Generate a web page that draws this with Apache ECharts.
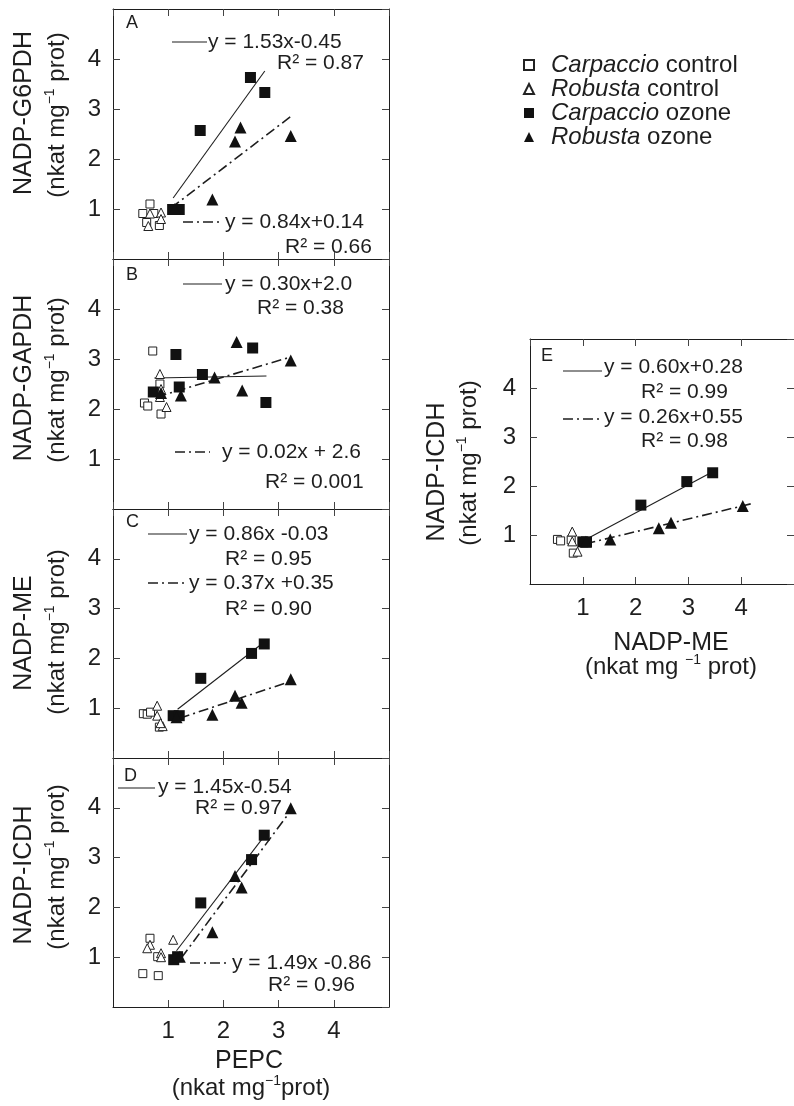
<!DOCTYPE html>
<html><head><meta charset="utf-8">
<script src="https://cdn.jsdelivr.net/npm/echarts@6/dist/echarts.min.js"></script>
<style>html,body{margin:0;padding:0;background:#fff}#c{width:794px;height:1106px}</style>
</head><body><div id="c"></div>
<script>
// ---------- data ----------
const tickLabels = ['1', '2', '3', '4'];
const seriesNames = ['Carpaccio control', 'Robusta control', 'Carpaccio ozone', 'Robusta ozone'];

// Panel A: NADP-G6PDH vs PEPC
const A_carpControl = [[0.67,1.10],[0.54,0.91],[0.61,0.73],[0.84,0.67],[0.74,0.91]];
const A_robControl  = [[0.67,0.91],[0.87,0.93],[0.64,0.66],[0.87,0.80]];
const A_carpOzone   = [[2.49,3.63],[2.75,3.33],[1.58,2.57],[1.08,0.99],[1.20,0.99]];
const A_robOzone    = [[2.31,2.63],[2.21,2.35],[3.22,2.46],[1.80,1.19],[1.12,1.00]];
const A_fitSolid    = [[1.09,1.22],[2.75,3.76]];
const A_fitDash     = [[1.05,1.02],[3.22,2.85]];

// Panel B: NADP-GAPDH vs PEPC
const B_carpControl = [[0.72,3.16],[0.57,2.12],[0.63,2.06],[0.87,1.90],[0.85,2.50]];
const B_robControl  = [[0.85,2.70],[0.85,2.24],[0.97,2.04],[0.87,2.40]];
const B_carpOzone   = [[1.14,3.09],[2.53,3.22],[1.62,2.69],[1.20,2.44],[0.73,2.34],[2.77,2.13]];
const B_robOzone    = [[2.24,3.34],[3.22,2.97],[1.84,2.63],[2.34,2.37],[1.23,2.27],[0.87,2.32]];
const B_fitSolid    = [[0.75,2.62],[2.78,2.66]];
const B_fitDash     = [[0.79,2.24],[3.22,3.04]];

// Panel C: NADP-ME vs PEPC
const C_carpControl = [[0.55,0.89],[0.62,0.88],[0.68,0.92],[0.84,0.62]];
const C_robControl  = [[0.80,1.05],[0.80,0.85],[0.90,0.64],[0.86,0.70]];
const C_carpOzone   = [[2.74,2.29],[2.51,2.10],[1.59,1.60],[1.09,0.85],[1.20,0.85]];
const C_robOzone    = [[3.22,1.58],[2.21,1.25],[2.33,1.11],[1.80,0.87],[1.15,0.82]];
const C_fitSolid    = [[1.17,0.98],[2.74,2.33]];
const C_fitDash     = [[1.21,0.80],[3.22,1.54]];

// Panel D: NADP-ICDH vs PEPC
const D_carpControl = [[0.67,1.38],[0.54,0.67],[0.82,0.63],[0.81,1.01]];
const D_robControl  = [[0.67,1.25],[1.09,1.35],[0.87,1.08],[0.87,1.00],[0.62,1.18]];
const D_carpOzone   = [[2.74,3.45],[2.51,2.96],[1.59,2.09],[1.10,0.95],[1.17,1.01]];
const D_robOzone    = [[3.22,3.99],[2.21,2.63],[2.33,2.40],[1.80,1.50],[1.21,1.01]];
const D_fitSolid    = [[1.15,1.13],[2.81,3.53]];
const D_fitDash     = [[1.24,0.99],[3.18,3.88]];

// Panel E: NADP-ICDH vs NADP-ME
const E_carpControl = [[0.52,0.91],[0.58,0.88],[0.82,0.63],[0.78,0.90]];
const E_robControl  = [[0.80,1.07],[0.80,0.87],[0.90,0.66]];
const E_carpOzone   = [[3.46,2.27],[2.97,2.09],[2.10,1.61],[1.00,0.86],[1.07,0.86]];
const E_robOzone    = [[4.03,1.59],[2.67,1.25],[2.44,1.14],[1.52,0.91],[1.06,0.86]];
const E_fitSolid    = [[1.02,0.89],[3.46,2.29]];
const E_fitDash     = [[1.05,0.82],[4.20,1.64]];

const panelLetters = ['A', 'B', 'C', 'D', 'E'];
const yTitles = ['NADP-G6PDH', 'NADP-GAPDH', 'NADP-ME', 'NADP-ICDH', 'NADP-ICDH'];
const eqSolid = ['y = 1.53x-0.45', 'y = 0.30x+2.0', 'y = 0.86x -0.03', 'y = 1.45x-0.54', 'y = 0.60x+0.28'];
const r2Solid = ['R² = 0.87', 'R² = 0.38', 'R² = 0.95', 'R² = 0.97', 'R² = 0.99'];
const eqDash  = ['y = 0.84x+0.14', 'y = 0.02x + 2.6', 'y = 0.37x +0.35', 'y = 1.49x -0.86', 'y = 0.26x+0.55'];
const r2Dash  = ['R² = 0.66', 'R² = 0.001', 'R² = 0.90', 'R² = 0.96', 'R² = 0.98'];

// ---------- layout ----------
const FONT = 'Liberation Sans';
const INK = '#1e1e1e';
const DASHDOT = [10, 4, 2, 4];
const panels = [
  {grid: {left: 113, top: 9,   width: 276, height: 250}, d: [A_carpControl, A_robControl, A_carpOzone, A_robOzone], fs: A_fitSolid, fd: A_fitDash, xLabels: false},
  {grid: {left: 113, top: 259, width: 276, height: 250}, d: [B_carpControl, B_robControl, B_carpOzone, B_robOzone], fs: B_fitSolid, fd: B_fitDash, xLabels: false},
  {grid: {left: 113, top: 509, width: 276, height: 249}, d: [C_carpControl, C_robControl, C_carpOzone, C_robOzone], fs: C_fitSolid, fd: C_fitDash, xLabels: false},
  {grid: {left: 113, top: 758, width: 276, height: 249}, d: [D_carpControl, D_robControl, D_carpOzone, D_robOzone], fs: D_fitSolid, fd: D_fitDash, xLabels: true},
  {grid: {left: 530, top: 339, width: 274, height: 245}, d: [E_carpControl, E_robControl, E_carpOzone, E_robOzone], fs: E_fitSolid, fd: E_fitDash, xLabels: true}
];

const grids = [], xAxes = [], yAxes = [], series = [];
const fmt = v => (v >= 1 && v <= 4) ? tickLabels[v - 1] : '';
const axisLine = {show: true, onZero: false, lineStyle: {color: INK, width: 1}};
const axisTick = {show: true, inside: true, length: 7, lineStyle: {color: '#444', width: 1}};

panels.forEach((p, i) => {
  grids.push(Object.assign({containLabel: false}, p.grid));
  const base = {type: 'value', gridIndex: i, min: 0, max: 5, interval: 1, splitLine: {show: false}, axisLine, axisTick};
  xAxes.push(Object.assign({}, base, {position: 'bottom',
    axisLabel: {show: p.xLabels, formatter: fmt, fontSize: 24, fontFamily: FONT, color: INK, margin: 12, showMinLabel: false, showMaxLabel: false}}));
  xAxes.push(Object.assign({}, base, {position: 'top', axisLabel: {show: false}}));
  yAxes.push(Object.assign({}, base, {position: 'left',
    axisLabel: {show: true, formatter: fmt, fontSize: 24, fontFamily: FONT, color: INK, margin: i === 4 ? 14 : 12, showMinLabel: false, showMaxLabel: false}}));
  yAxes.push(Object.assign({}, base, {position: 'right', axisLabel: {show: false}}));
  const xi = 2 * i, yi = 2 * i;
  series.push({type: 'line', name: 'fit-solid-' + i, xAxisIndex: xi, yAxisIndex: yi, data: p.fs, symbol: 'none', silent: true, z: 1,
    lineStyle: {color: INK, width: 1.1, type: 'solid'}});
  series.push({type: 'line', name: 'fit-dash-' + i, xAxisIndex: xi, yAxisIndex: yi, data: p.fd, symbol: 'none', silent: true, z: 1,
    lineStyle: {color: INK, width: 1.6, type: DASHDOT}});
  const styles = [
    {symbol: 'rect', symbolSize: 8, itemStyle: {color: '#fff', borderColor: '#222', borderWidth: 1, opacity: 1}},
    {symbol: 'triangle', symbolSize: 9, itemStyle: {color: '#fff', borderColor: '#222', borderWidth: 1, opacity: 1}},
    {symbol: 'rect', symbolSize: 11, itemStyle: {color: '#111', opacity: 1}},
    {symbol: 'triangle', symbolSize: 12, itemStyle: {color: '#111', opacity: 1}}
  ];
  p.d.forEach((arr, k) => {
    series.push(Object.assign({type: 'scatter', name: seriesNames[k], xAxisIndex: xi, yAxisIndex: yi, data: arr, z: 3}, styles[k]));
  });
});

// ---------- annotations ----------
const graphic = [];
function txt(x, y, s, size, extra) {
  const st = Object.assign({text: s, fontSize: size, fontFamily: FONT, fill: INK,
    align: 'left', textAlign: 'left', verticalAlign: 'middle', textVerticalAlign: 'middle'}, extra || {});
  return {type: 'text', x: x, y: y, silent: true, style: st};
}
function seg(x1, x2, y, dash) {
  return {type: 'line', silent: true, shape: {x1: x1, y1: y, x2: x2, y2: y},
    style: {stroke: INK, lineWidth: dash ? 1.6 : 1.1, lineDash: dash ? DASHDOT : null}};
}
// [letter(x,y), solid sample(x1,x2,y), eqSolid(x,y), r2Solid(x,y), dash sample(x1,x2,y), eqDash(x,y), r2Dash(x,y)]
const annPos = [
  [[126, 23], [172, 207, 42], [208, 42], [277, 63], [183, 220, 222], [225, 222], [285, 247]],
  [[126, 275], [183, 222, 284], [225, 284], [257, 308], [175, 210, 452], [222, 452], [265, 482]],
  [[126, 522], [148, 187, 534], [189, 534], [225, 559], [148, 187, 583], [189, 583], [225, 609]],
  [[124, 776], [118, 155, 788], [158, 787], [195, 808], [190, 228, 963], [232, 963], [268, 985]],
  [[541, 356], [563, 602, 371], [604, 367], [641, 392], [563, 602, 419], [604, 417], [641, 441]]
];
const EQ = 21;
annPos.forEach((a, i) => {
  graphic.push(txt(a[0][0], a[0][1], panelLetters[i], 18));
  graphic.push(seg(a[1][0], a[1][1], a[1][2], false));
  graphic.push(txt(a[2][0], a[2][1], eqSolid[i], EQ));
  graphic.push(txt(a[3][0], a[3][1], r2Solid[i], EQ));
  graphic.push(seg(a[4][0], a[4][1], a[4][2], true));
  graphic.push(txt(a[5][0], a[5][1], eqDash[i], EQ));
  graphic.push(txt(a[6][0], a[6][1], r2Dash[i], EQ));
});

// axis titles
const unitRich = {
  a: {fontSize: 24, lineHeight: 28, fontFamily: FONT, color: INK},
  s: {fontSize: 14, lineHeight: 14, fontFamily: FONT, color: INK, verticalAlign: 'top'}
};
function unitText(x, y, s, rot) {
  const el = txt(x, y, s, 24, {align: 'center', textAlign: 'center', rich: unitRich});
  if (rot) el.rotation = Math.PI / 2;
  return el;
}
// y titles: [line1 x, line1 y, line2 x, line2 y]
const yTitlePos = [[24, 113, 57, 115], [24, 378, 57, 380], [24, 633, 57, 632], [24, 875, 57, 867], [437, 472, 469, 463]];
yTitlePos.forEach((p, i) => {
  const t = txt(p[0], p[1], yTitles[i], 25, {align: 'center', textAlign: 'center'});
  t.rotation = Math.PI / 2;
  graphic.push(t);
  graphic.push(unitText(p[2], p[3], '{a|(nkat mg}{s|−1}{a| prot)}', true));
});
graphic.push(txt(249, 1061, 'PEPC', 25, {align: 'center', textAlign: 'center'}));
graphic.push(unitText(251, 1088, '{a|(nkat mg}{s|−1}{a|prot)}', false));
graphic.push(txt(671, 643, 'NADP-ME', 25, {align: 'center', textAlign: 'center'}));
graphic.push(unitText(671, 667, '{a|(nkat mg }{s|−1}{a| prot)}', false));

const option = {
  animation: false,
  backgroundColor: '#fff',
  textStyle: {fontFamily: FONT},
  grid: grids,
  xAxis: xAxes,
  yAxis: yAxes,
  legend: {
    data: seriesNames,
    orient: 'vertical',
    left: 518, top: 48,
    itemWidth: 10, itemHeight: 10, itemGap: 0,
    selectedMode: false,
    formatter: name => { const parts = name.split(' '); return '{i|' + parts[0] + '} ' + parts[1]; },
    textStyle: {fontSize: 24, lineHeight: 18.7, fontFamily: FONT, color: INK, padding: [0, 0, 0, 12],
      rich: {i: {fontStyle: 'italic', fontSize: 24, lineHeight: 18.7, fontFamily: FONT, color: INK}}}
  },
  series: series,
  graphic: graphic
};
const chart = echarts.init(document.getElementById('c'), null, {renderer: 'canvas'});
chart.setOption(option);
</script>
</body></html>
